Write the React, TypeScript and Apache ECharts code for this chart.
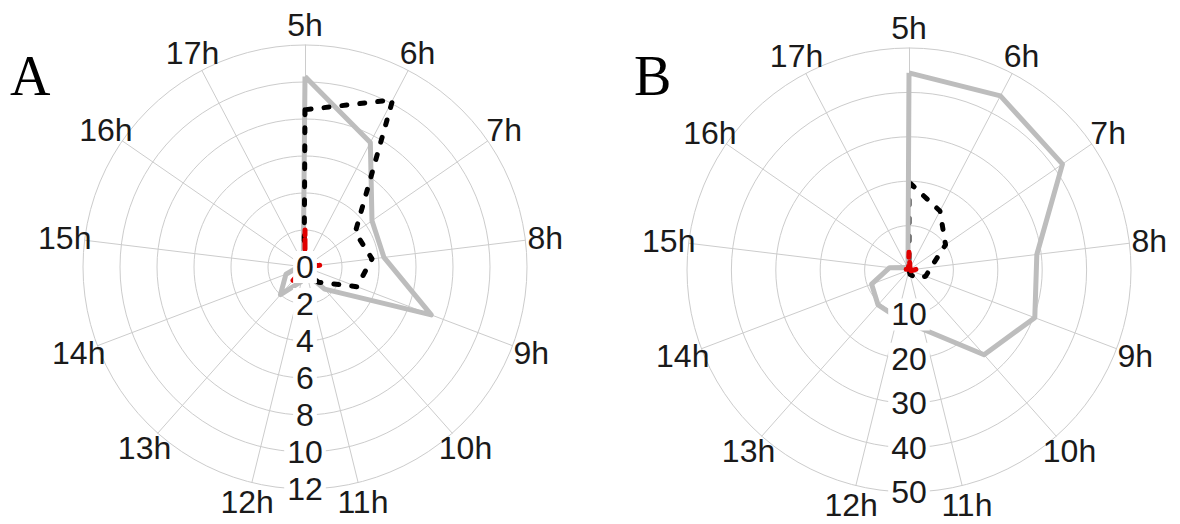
import { useEffect, useRef } from 'react';
import * as echarts from 'echarts';

const hours = ['5h', '6h', '7h', '8h', '9h', '10h', '11h', '12h', '13h', '14h', '15h', '16h', '17h'];

// Panel A (radius 0–12)
const greyA = [10.3, 7.6, 4.4, 4.3, 7.3, 1.6, 0.4, 0.8, 2.0, 1.1, 0.3, 0.2, 0.2];
const blackA = [8.5, 10.2, 3.3, 3.65, 3.0, 1.1, 0.3, 0.2, 0.2, 0.2, 0.2, 0.1, 0.1];
const redA = [2.0, 0, 0, 0.8, 0, 0, 0, 0, 1.0, 0, 0, 0, 0];

// Panel B (radius 0–50)
const greyB = [44.4, 44.3, 42, 29, 30.3, 25.5, 13.8, 11, 10.5, 9, 4.4, 1, 0.5];
const blackB = [19.8, 15, 10, 5, 4, 2.4, 1, 0, 0, 0, 0, 0, 0];
const redB = [4, 0.5, 0.5, 1.8, 0.5, 0.3, 0, 0, 0, 0.5, 1, 0.3, 0.3];

const maxA = 12;
const stepA = 2;
const maxB = 50;
const stepB = 10;

const FONT = 'Arial, "Liberation Sans", sans-serif';
const LABEL_SIZE = 32;
const TEXT_COLOR = '#1a1a1a';

const centerA = [305, 267];
const centerB = [909, 270];
const R = 222;
const NAME_R = 242;

// ECharts radar goes counter-clockwise; reorder so hours run clockwise
const cw = (arr: any[]) => [arr[0], ...arr.slice(1).reverse()];

function radarCfg(center: number[], max: number, split: number) {
  return {
    center,
    radius: R,
    startAngle: 90,
    shape: 'circle',
    splitNumber: split,
    indicator: cw(hours).map((name) => ({ name, min: 0, max })),
    axisName: { show: false },
    splitLine: { lineStyle: { color: '#cccccc', width: 1 } },
    splitArea: { show: false },
    axisLine: { lineStyle: { color: '#cccccc', width: 1 } },
    axisTick: { show: false },
    axisLabel: { show: false },
  };
}

function radiusAxisCfg(idx: number, max: number, step: number, showMin: boolean) {
  return {
    polarIndex: idx,
    type: 'value',
    min: 0,
    max,
    interval: step,
    z: 10,
    axisLine: { show: false },
    axisTick: { show: false },
    splitLine: { show: false },
    axisLabel: {
      show: true,
      showMinLabel: showMin,
      margin: 0,
      align: 'center',
      verticalAlign: 'middle',
      color: TEXT_COLOR,
      fontSize: LABEL_SIZE,
      fontFamily: FONT,
      backgroundColor: '#ffffff',
      padding: [0, 3],
    },
  };
}

const hiddenRadius = (idx: number) => ({
  polarIndex: idx,
  type: 'value',
  min: 0,
  max: 1,
  show: false,
});

const greyStyle = { color: '#bdbdbd', width: 5, type: 'solid' };
const blackStyle = { color: '#000000', width: 5, type: [5, 13], cap: 'round' };
const redStyle = { color: '#e00000', width: 5, type: [5, 9], cap: 'round' };

function series(radarIndex: number, values: number[], lineStyle: any, z: number) {
  return {
    type: 'radar',
    radarIndex,
    symbol: 'none',
    z,
    silent: true,
    data: [{ value: cw(values), lineStyle }],
  };
}

function nameSeries(polarIndex: number) {
  return {
    type: 'scatter',
    coordinateSystem: 'polar',
    polarIndex,
    symbolSize: 0,
    silent: true,
    itemStyle: { opacity: 1, color: TEXT_COLOR },
    data: hours.map((h, i) => [1, i]),
    label: {
      show: true,
      position: 'inside',
      formatter: (p: any) => hours[p.dataIndex],
      color: TEXT_COLOR,
      opacity: 1,
      fontSize: LABEL_SIZE,
      fontFamily: FONT,
    },
  };
}

export default function App() {
  const ref = useRef<HTMLDivElement>(null);
  useEffect(() => {
    if (!ref.current) return;
    const chart = echarts.init(ref.current, null, { renderer: 'svg' });
    chart.setOption({
      animation: false,
      backgroundColor: '#ffffff',
      radar: [radarCfg(centerA, maxA, maxA / stepA), radarCfg(centerB, maxB, maxB / stepB)],
      polar: [
        { center: centerA, radius: R },
        { center: centerB, radius: R },
        { center: centerA, radius: NAME_R },
        { center: centerB, radius: NAME_R },
      ],
      angleAxis: [
        { polarIndex: 0, type: 'value', min: 0, max: 360, startAngle: 270, show: false },
        { polarIndex: 1, type: 'value', min: 0, max: 360, startAngle: 270, show: false },
        { polarIndex: 2, type: 'value', min: 0, max: hours.length, startAngle: 90, clockwise: true, show: false },
        { polarIndex: 3, type: 'value', min: 0, max: hours.length, startAngle: 90, clockwise: true, show: false },
      ],
      radiusAxis: [
        radiusAxisCfg(0, maxA, stepA, true),
        radiusAxisCfg(1, maxB, stepB, false),
        hiddenRadius(2),
        hiddenRadius(3),
      ],
      graphic: [
        {
          type: 'text',
          x: 10,
          y: 76,
          style: {
            text: 'A',
            fontSize: 56,
            fontFamily: '"Liberation Serif", "Times New Roman", serif',
            fill: '#000',
            verticalAlign: 'middle',
          },
        },
        {
          type: 'text',
          x: 634,
          y: 76,
          style: {
            text: 'B',
            fontSize: 56,
            fontFamily: '"Liberation Serif", "Times New Roman", serif',
            fill: '#000',
            verticalAlign: 'middle',
          },
        },
      ],
      series: [
        series(0, greyA, greyStyle, 2),
        series(0, blackA, blackStyle, 3),
        series(0, redA, redStyle, 4),
        series(1, blackB, blackStyle, 2),
        series(1, greyB, greyStyle, 3),
        series(1, redB, redStyle, 4),
        nameSeries(2),
        nameSeries(3),
      ],
    });
    return () => chart.dispose();
  }, []);
  return (
    <div
      ref={ref}
      style={{ position: 'fixed', left: 0, top: 0, width: 1180, height: 524, background: '#fff' }}
    />
  );
}
